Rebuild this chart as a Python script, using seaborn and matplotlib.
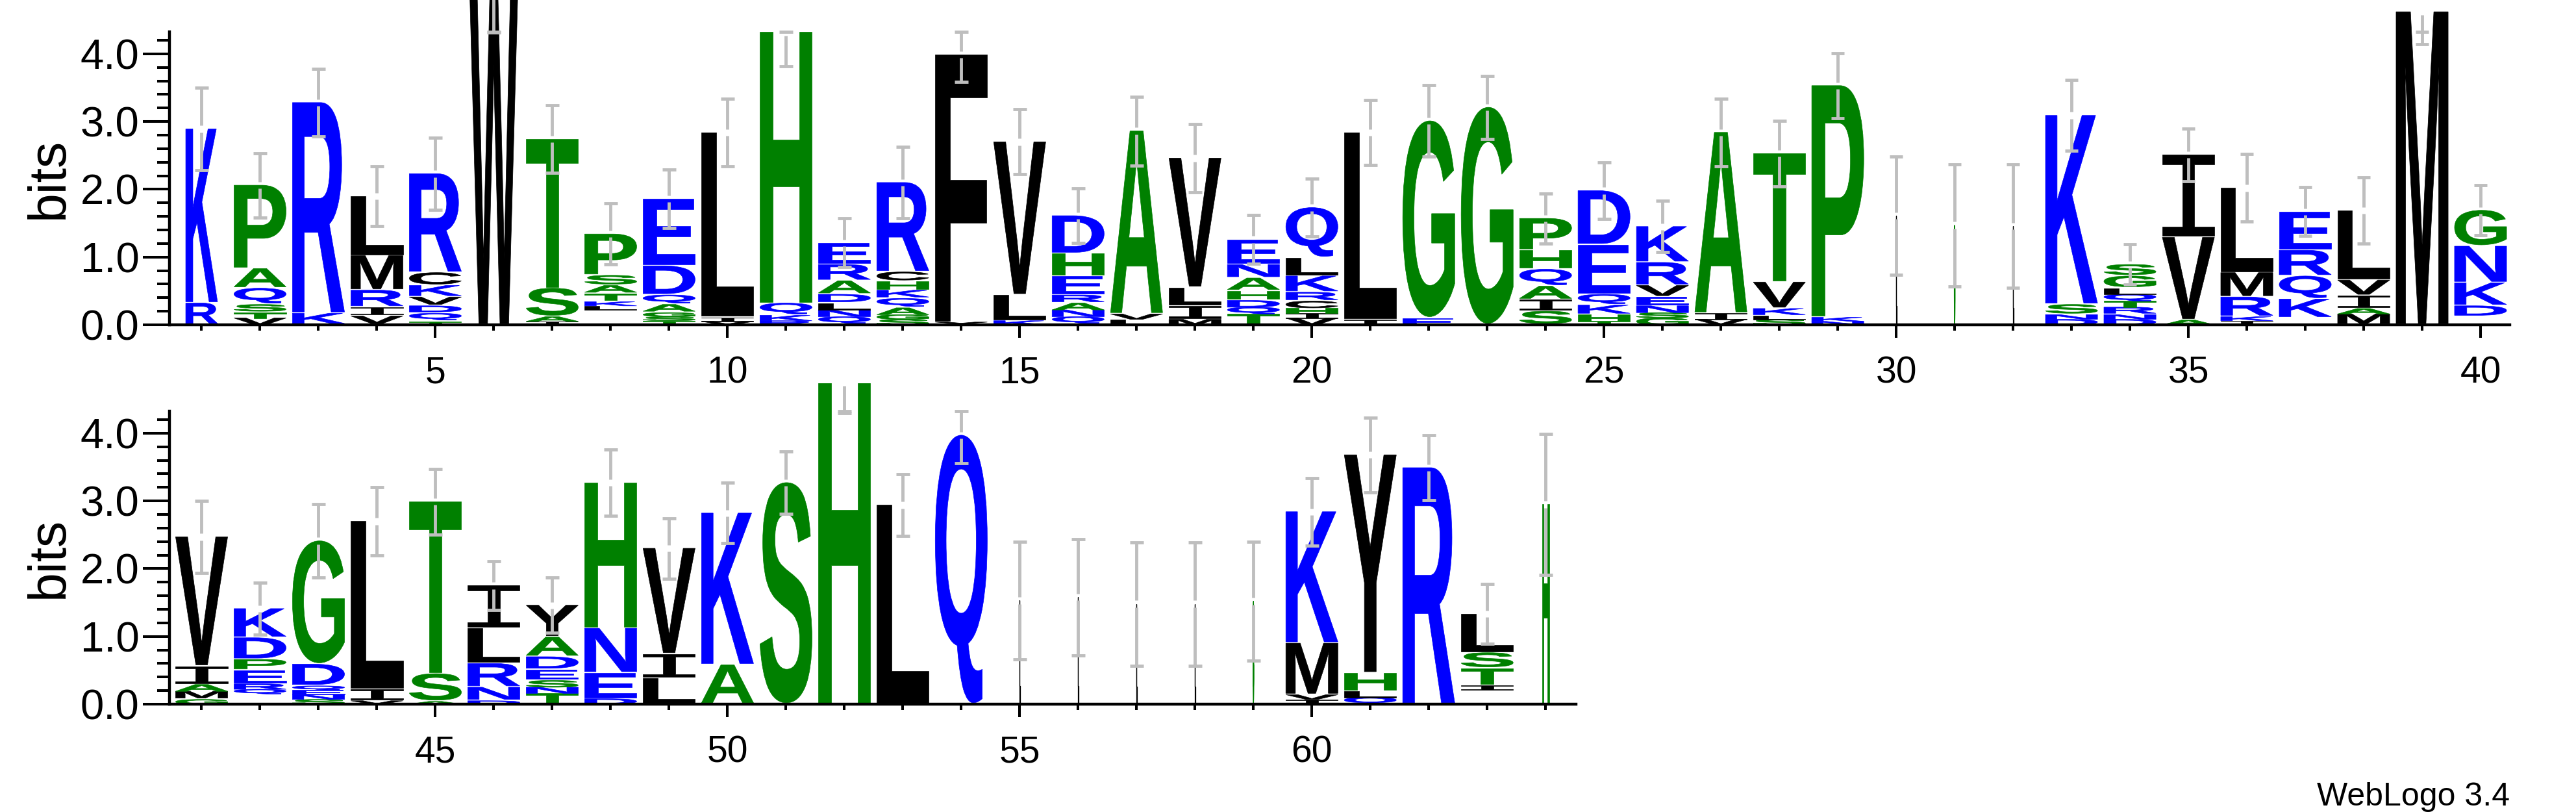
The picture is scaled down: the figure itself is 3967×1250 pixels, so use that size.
import numpy as np
import seaborn as sns
import matplotlib
matplotlib.use("Agg")
import matplotlib.pyplot as plt
from matplotlib.textpath import TextPath
from matplotlib.patches import PathPatch, Rectangle
from matplotlib.font_manager import FontProperties
from matplotlib.transforms import Affine2D

# --- data: letter stacks (bottom -> top), heights in bits ---
# '' = tiny symbols that take up room but are not drawn
stacks = [
    [('R', .32), ('K', 2.57)],
    [('V', .10), ('T', .08), ('S', .12), ('Q', .24), ('A', .29), ('P', 1.23)],
    [('K', .17), ('R', 3.11)],
    [('V', .13), ('I', .13), ('R', .25), ('M', .51), ('L', .88)],
    [('T', .05), ('Q', .12), ('D', .11), ('V', .13), ('K', .17), ('C', .19), ('R', 1.46)],
    [('W', 4.85)],
    [('I', .05), ('A', .07), ('S', .42), ('T', 2.20)],
    [('', .22), ('L', .06), ('K', .06), ('T', .12), ('A', .12), ('S', .15), ('P', .61)],
    [('T', .06), ('S', .06), ('G', .06), ('A', .12), ('Q', .14), ('D', .43), ('E', .99)],
    [('V', .05), ('I', .06), ('L', 2.73)],
    [('R', .06), ('K', .08), ('Q', .18), ('H', 4.00)],
    [('Q', .12), ('N', .10), ('L', .10), ('D', .13), ('A', .20), ('R', .24), ('E', .32)],
    [('S', .08), ('G', .07), ('A', .10), ('Q', .14), ('K', .12), ('H', .13), ('C', .14), ('R', 1.32)],
    [('Y', .04), ('F', 3.95)],
    [('K', .06), ('L', .38), ('V', 2.26)],
    [('Q', .12), ('N', .10), ('A', .10), ('R', .12), ('E', .28), ('H', .33), ('D', .56)],
    [('L', .08), ('V', .08), ('A', 2.70)],
    [('M', .08), ('I', .20), ('L', .27), ('V', 1.91)],
    [('T', .16), ('Q', .10), ('D', .10), ('H', .14), ('A', .19), ('N', .20), ('E', .37)],
    [('V', .10), ('I', .07), ('H', .08), ('C', .10), ('R', .13), ('K', .24), ('L', .27), ('Q', .74)],
    [('I', .08), ('L', 2.76)],
    [('E', .10), ('G', 2.91)],
    [('G', 3.21)],
    [('S', .20), ('I', .17), ('A', .20), ('Q', .25), ('H', .28), ('P', .47)],
    [('T', .06), ('H', .09), ('K', .14), ('Q', .16), ('E', .73), ('D', .80)],
    [('G', .10), ('S', .08), ('N', .10), ('E', .13), ('V', .17), ('R', .34), ('K', .53)],
    [('V', .08), ('I', .09), ('A', 2.67)],
    [('S', .08), ('L', .05), ('K', .11), ('V', .39), ('T', 1.90)],
    [('N', .05), ('K', .06), ('P', 3.42)],
    [('L', 1.61)],
    [('G', 1.47)],
    [('L', 1.46)],
    [('D', .08), ('N', .07), ('S', .15), ('K', 2.79)],
    [('D', .08), ('N', .07), ('R', .11), ('T', .09), ('Q', .10), ('L', .09), ('G', .18), ('S', .17)],
    [('A', .07), ('V', 1.22), ('I', 1.22)],
    [('I', .06), ('K', .06), ('R', .29), ('M', .36), ('L', 1.25)],
    [('', .10), ('K', .28), ('Q', .34), ('R', .38), ('E', .57)],
    [('M', .16), ('A', .08), ('I', .19), ('V', .23), ('L', 1.03)],
    [('M', 4.62)],
    [('', .12), ('D', .16), ('K', .34), ('N', .54), ('G', .53)],
    # second line
    [('G', .07), ('M', .12), ('A', .10), ('I', .27), ('V', 1.91)],
    [('', .15), ('Q', .07), ('R', .08), ('E', .20), ('P', .16), ('D', .32), ('K', .43)],
    [('S', .07), ('N', .07), ('E', .07), ('Q', .06), ('D', .32), ('G', 1.82)],
    [('V', .05), ('I', .17), ('L', 2.48)],
    [('A', .04), ('S', .41), ('T', 2.54)],
    [('D', .05), ('N', .20), ('R', .35), ('L', .52), ('I', .63)],
    [('T', .16), ('N', .09), ('S', .10), ('E', .16), ('D', .19), ('A', .29), ('Y', .47)],
    [('D', .08), ('E', .38), ('N', .66), ('H', 2.15)],
    [('L', .38), ('I', .36), ('V', 1.56)],
    [('A', .58), ('K', 2.24)],
    [('S', 3.27)],
    [('H', 4.75)],
    [('L', 2.94)],
    [('Q', 3.97)],
    [('L', 1.53)],
    [('L', 1.58)],
    [('L', 1.48)],
    [('L', 1.48)],
    [('G', 1.52)],
    [('I', .07), ('V', .07), ('M', .76), ('K', 1.94)],
    [('Q', .10), ('L', .09), ('H', .27), ('Y', 3.22)],
    [('R', 3.49)],
    [('', .21), ('I', .07), ('T', .25), ('S', .23), ('L', .57)],
    [('H', 2.95)],
]

# half size of the error bar per position
errors = [0.61, 0.475, 0.50, 0.44, 0.53, 0.54, 0.50, 0.45, 0.43, 0.50,
          0.50, 0.36, 0.525, 0.40, 0.48, 0.40, 0.51, 0.50, 0.36, 0.43,
          0.48, 0.53, 0.465, 0.37, 0.415, 0.38, 0.50, 0.485, 0.48, 0.87,
          0.90, 0.91, 0.52, 0.30, 0.39, 0.50, 0.36, 0.49, 0.48, 0.37,
          0.53, 0.38, 0.54, 0.50, 0.485, 0.36, 0.41, 0.49, 0.445, 0.445,
          0.46, 0.45, 0.455, 0.41, 0.87, 0.86, 0.91, 0.91, 0.88, 0.50,
          0.55, 0.48, 0.44, 1.04]

# fraction of non-gap symbols (stack width), 1 when not listed
coverage = {1: 0.61, 6: 0.92, 30: 0.015, 31: 0.015, 32: 0.015,
            55: 0.015, 56: 0.015, 57: 0.015, 58: 0.015, 59: 0.015, 64: 0.14}

colors = {}
colors.update({c: '#0000FF' for c in 'KRDENQ'})
colors.update({c: '#008000' for c in 'SGHTAP'})
colors.update({c: '#000000' for c in 'YVMCLFIW'})

YMAX = np.log2(20)
PX_BIT = 104.3
W, H = 3967, 1250
STACK_W = 0.89
BAR = '#bebebe'

sns.set_style("ticks", {'axes.edgecolor': 'black', 'xtick.color': 'black',
                        'ytick.color': 'black', 'text.color': 'black',
                        'axes.labelcolor': 'black'})
plt.rcParams['font.family'] = ['Liberation Sans', 'DejaVu Sans']

fp_sans = FontProperties(family='Liberation Sans', weight='bold')
fp_mono = FontProperties(family='Liberation Mono', weight='normal')
glyphs = {}


def glyph(ch):
    if ch not in glyphs:
        glyphs[ch] = TextPath((0, 0), ch, size=1, prop=fp_mono if ch == 'I' else fp_sans)
    return glyphs[ch]


fig = plt.figure(figsize=(W / 100, H / 100), dpi=100)


def draw_panel(x0, x1, base_y, first, last, xlim, clip_top):
    ax = fig.add_axes([x0 / W, (H - base_y) / H, (x1 - x0) / W, YMAX * PX_BIT / H])
    clip = Rectangle((0, 0), 1, (H - clip_top) / H, transform=fig.transFigure)
    for pos in range(first, last + 1):
        stack = stacks[pos - 1]
        cov = coverage.get(pos, 1.0)
        w = STACK_W * cov
        y = 0.0
        for ch, h in stack:
            if ch:
                tp = glyph(ch)
                bb = tp.get_extents()
                gap = 0.02 if h > 0.1 else 0.0
                tr = (Affine2D().translate(-bb.x0, -bb.y0)
                      .scale(w / bb.width, (h - gap) / bb.height)
                      .translate(pos - w / 2, y + gap))
                p = PathPatch(tr.transform_path(tp), fc=colors[ch], ec=colors[ch],
                              lw=0.9 if cov < 0.05 else 0.5, transform=ax.transData)
                ax.add_patch(p)
                p.set_clip_path(clip)
            y += h
        # error bar centred on stack top, with a small gap at the top
        top, err, g = y, errors[pos - 1], 0.05
        lo, hi = top - err, min(top + err, YMAX)
        segs = [(lo, top - g)]
        if hi > top + g:
            segs.append((top + g, hi))
        for a, b in segs:
            ax.plot([pos, pos], [a, b], color=BAR, lw=3.5,
                    solid_capstyle='butt', clip_on=False, zorder=5)
        for yc in (lo, hi):
            ax.plot([pos - 0.115, pos + 0.115], [yc, yc], color=BAR, lw=3.5,
                    solid_capstyle='butt', clip_on=False, zorder=5)

    ax.set_xlim(*xlim)
    ax.set_ylim(0, YMAX)
    sns.despine(ax=ax)
    for s in ('left', 'bottom'):
        ax.spines[s].set_linewidth(3.2)
    ax.set_yticks([0, 1, 2, 3, 4])
    ax.set_yticklabels(['0.0', '1.0', '2.0', '3.0', '4.0'])
    ax.set_yticks(np.arange(0.2, 4.3, 0.2), minor=True)
    majors = [p for p in range(first, last + 1) if p % 5 == 0]
    ax.set_xticks(majors)
    ax.set_xticklabels([str(p) for p in majors])
    ax.set_xticks(range(first, last + 1), minor=True)
    ax.tick_params(axis='y', which='major', length=29.5, width=2.9, pad=4, labelsize=47)
    ax.tick_params(axis='y', which='minor', length=13.7, width=2.9)
    ax.tick_params(axis='x', which='major', length=14.4, width=2.9, pad=20, labelsize=41)
    ax.tick_params(axis='x', which='minor', length=6.5, width=2.9)
    ax.set_ylabel('bits', fontsize=58)
    ax.yaxis.set_label_coords((114 - x0) / (x1 - x0), 0.5)
    ax.set_facecolor('none')
    return ax


draw_panel(261, 3865, 500, 1, 40, (0.45, 40.5), 0)
draw_panel(261, 2427, 1084, 41, 64, (40.45, 64.52), 590)

fig.text(3865 / W, (H - 1240) / H, 'WebLogo 3.4', ha='right', va='baseline', fontsize=36)

fig.savefig('out.png', dpi=100, facecolor='white')
